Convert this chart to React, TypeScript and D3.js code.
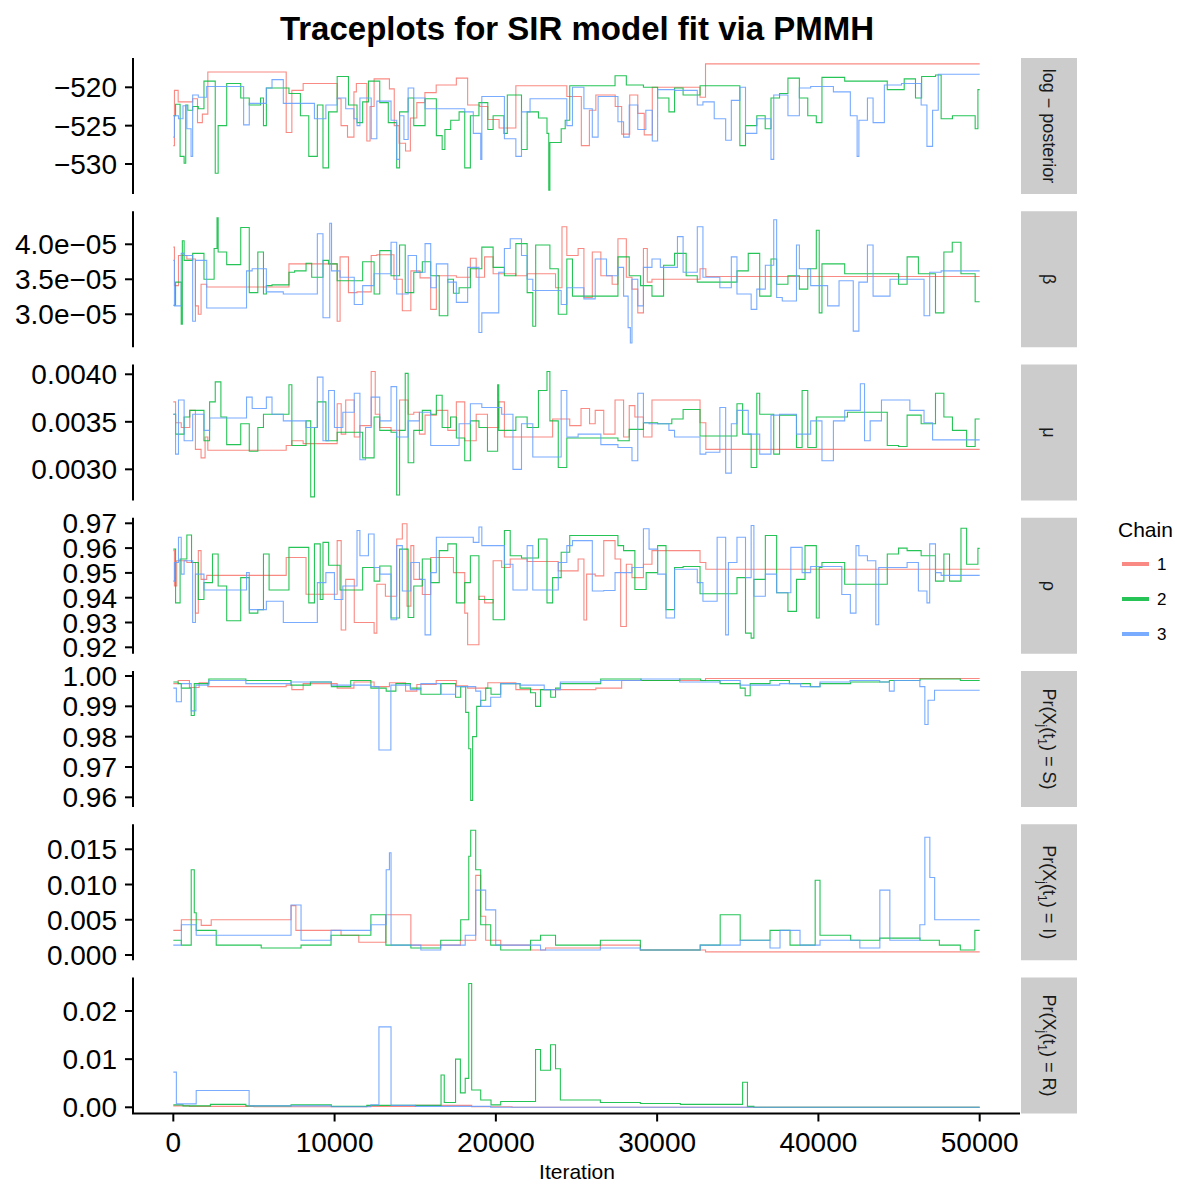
import React from 'react';
import * as d3 from 'd3';

type Pt = [number, number];

// ---- data: [iteration (thousands), value] step points, chains 1..3 ----
// log-posterior
const lp1: Pt[] = [[0,-527.6],[0.07,-520.4],[0.3,-521.9],[1.2,-521.5],[1.5,-524.6],[1.8,-523.5],[2.14,-518.0],[7.0,-525.9],[7.35,-520.4],[8.05,-519.5],[10.16,-521.5],[10.4,-525.0],[10.8,-526.5],[11.2,-520.6],[11.35,-519.5],[12.0,-527.0],[12.2,-522.5],[12.45,-518.9],[13.4,-520.2],[13.7,-525.0],[14.0,-527.3],[14.4,-528.3],[14.7,-524.0],[15.1,-522.0],[15.6,-520.7],[16.3,-519.7],[17.55,-518.8],[18.25,-522.3],[19.0,-522.5],[19.5,-524.2],[20.2,-525.3],[21.24,-519.8],[24.4,-521.2],[25.3,-527.6],[25.8,-523.0],[26.2,-521.0],[27.4,-522.5],[27.8,-526.1],[28.3,-521.0],[28.8,-523.4],[29.2,-526.2],[29.7,-520.0],[32.66,-521.3],[33.0,-516.95],[50,-516.95]];
const lp2: Pt[] = [[0,-523.7],[0.14,-522.2],[0.42,-529.0],[0.67,-529.9],[0.77,-522.3],[0.9,-523.0],[1.2,-522.5],[1.55,-522.8],[1.9,-519.2],[2.6,-531.2],[2.78,-525.0],[3.31,-519.5],[4.18,-521.4],[4.71,-522.3],[5.41,-521.4],[5.59,-525.0],[5.77,-520.1],[7.17,-520.8],[7.88,-523.7],[8.4,-529.0],[8.93,-522.3],[9.28,-530.5],[9.63,-523.2],[10.16,-518.6],[10.86,-522.3],[11.39,-524.6],[11.74,-521.9],[12.1,-519.2],[12.8,-522.0],[13.33,-524.6],[13.85,-530.5],[14.03,-523.2],[14.56,-521.4],[14.91,-525.0],[15.61,-521.5],[16.31,-526.3],[16.67,-528.1],[16.84,-525.5],[17.2,-524.3],[17.72,-523.2],[18.07,-530.5],[18.42,-523.7],[18.95,-522.0],[19.5,-525.5],[19.83,-523.7],[20.5,-526.0],[20.71,-521.0],[21.59,-528.1],[21.94,-523.2],[22.64,-524.0],[23.17,-526.0],[23.28,-533.4],[23.35,-527.2],[24.05,-525.4],[24.3,-524.3],[24.58,-519.8],[27.39,-518.5],[28.09,-519.7],[29.15,-520.0],[30.03,-521.4],[30.73,-523.2],[31.08,-520.1],[31.61,-521.0],[32.66,-519.8],[35.13,-527.6],[35.48,-525.0],[36.18,-523.7],[36.7,-525.4],[37.06,-521.4],[37.59,-520.8],[38.11,-518.8],[38.82,-521.4],[39.34,-523.7],[39.87,-524.6],[40.22,-518.7],[41.63,-519.2],[44.27,-520.3],[45.32,-518.9],[46.02,-521.4],[46.4,-518.6],[47.26,-518.4],[47.61,-524.1],[48.31,-523.7],[49.19,-523.7],[49.72,-525.4],[49.89,-520.3],[50,-520.3]];
const lp3: Pt[] = [[0,-526.5],[0.07,-523.7],[0.32,-524.1],[0.6,-522.4],[0.84,-525.4],[1.1,-529.0],[1.2,-521.0],[1.55,-521.3],[2.07,-519.9],[4.36,-524.9],[4.71,-522.1],[5.77,-520.1],[6.12,-519.0],[6.82,-522.1],[8.75,-524.1],[9.46,-522.3],[10.16,-521.4],[10.69,-522.8],[11.2,-524.1],[11.39,-525.0],[11.57,-521.4],[12.27,-526.7],[12.62,-521.8],[13.5,-524.3],[13.85,-529.4],[14.03,-523.7],[14.3,-526.8],[14.56,-520.1],[14.91,-521.4],[15.61,-522.8],[17.0,-522.8],[18.07,-523.2],[18.6,-526.0],[19.06,-529.4],[19.13,-521.2],[20.53,-526.7],[21.24,-529.0],[21.59,-523.2],[22.12,-521.5],[24.4,-525.0],[24.75,-520.0],[25.46,-522.8],[25.98,-526.5],[26.34,-521.2],[27.57,-524.5],[27.92,-526.5],[28.27,-522.3],[28.8,-525.5],[29.3,-523.0],[29.7,-527.0],[30.03,-520.3],[31.08,-520.4],[32.49,-522.3],[32.84,-521.9],[33.54,-524.1],[34.25,-526.9],[34.6,-521.7],[35.13,-520.0],[35.48,-526.0],[36.18,-524.1],[37.06,-529.4],[37.23,-521.0],[38.11,-523.7],[38.82,-520.1],[39.52,-519.9],[40.93,-520.6],[41.98,-523.7],[42.4,-529.0],[42.51,-524.3],[43.04,-521.4],[43.39,-524.6],[44.09,-519.7],[45.15,-519.5],[46.37,-522.3],[46.73,-527.7],[47.08,-523.0],[47.43,-518.3],[50,-518.3]];

// beta (units of 1e-5)
const beta1: Pt[] = [[0,3.96],[0.07,3.41],[0.32,3.84],[0.84,3.79],[1.37,3.12],[1.55,3.0],[1.72,3.43],[2.07,3.39],[7.17,3.72],[10.16,2.90],[10.34,3.82],[10.86,3.31],[11.39,3.32],[12.27,3.84],[12.62,3.85],[13.68,3.50],[14.2,3.05],[14.73,3.62],[15.3,3.52],[15.96,3.07],[16.31,3.55],[17.55,3.53],[18.42,3.80],[18.78,3.53],[19.3,3.82],[19.83,3.58],[21.24,3.55],[21.94,3.58],[23.7,3.38],[24.1,4.25],[24.4,3.84],[25.1,3.94],[25.46,3.24],[25.98,3.89],[26.51,3.55],[27.21,3.43],[27.57,4.08],[28.09,3.53],[28.44,3.36],[28.8,3.02],[29.15,3.94],[29.39,3.46],[29.68,3.50],[32.66,3.65],[33.02,3.54],[50,3.54]];
const beta2: Pt[] = [[0,3.13],[0.14,3.46],[0.49,2.86],[0.56,4.05],[0.67,3.77],[1.2,3.87],[1.9,3.50],[2.53,3.94],[2.71,4.38],[2.78,3.89],[3.31,3.71],[4.18,4.24],[4.71,3.31],[5.24,3.89],[5.59,3.29],[5.77,3.41],[6.12,3.42],[7.17,3.60],[7.52,3.62],[8.23,3.73],[8.58,3.53],[9.28,3.77],[9.63,3.72],[10.16,3.48],[11.74,3.75],[12.45,3.29],[12.8,3.91],[13.5,3.55],[14.03,3.99],[14.38,3.31],[14.91,3.60],[15.44,3.75],[15.96,3.55],[16.49,2.98],[17.02,3.50],[17.37,3.30],[17.72,3.38],[18.42,3.65],[19.13,3.96],[19.83,3.67],[20.53,3.55],[21.24,4.01],[21.94,3.31],[22.29,2.83],[22.47,3.99],[23.35,3.65],[23.87,3.0],[24.4,3.79],[24.75,3.26],[27.57,3.82],[28.27,3.55],[28.97,3.41],[29.68,3.26],[30.4,3.70],[31.08,3.87],[31.8,3.55],[32.49,3.46],[34.95,3.62],[35.65,3.87],[36.36,3.26],[37.06,3.79],[37.41,3.43],[38.11,3.55],[38.82,3.36],[39.34,3.65],[39.87,4.20],[40.05,3.02],[40.22,3.72],[41.63,3.58],[44.97,3.43],[45.5,3.82],[46.2,3.58],[47.26,3.02],[47.78,3.89],[48.3,4.03],[48.84,3.58],[49.72,3.18],[50,3.18]];
const beta3: Pt[] = [[0,3.77],[0.07,3.12],[0.49,3.87],[0.67,3.84],[1.2,2.90],[1.37,3.77],[2.07,3.09],[4.54,3.62],[4.89,3.65],[5.77,3.32],[6.82,3.29],[8.93,4.15],[9.28,2.95],[9.7,4.30],[9.81,3.62],[10.34,3.53],[11.22,3.14],[11.74,3.41],[12.45,3.58],[13.5,4.03],[13.85,3.29],[14.56,3.84],[15.08,3.60],[15.61,4.01],[15.96,3.38],[16.31,3.72],[17.02,3.46],[17.55,3.17],[18.25,3.67],[18.95,2.74],[19.13,3.02],[20.18,3.60],[20.53,3.94],[20.89,4.08],[21.59,3.84],[21.94,3.50],[22.29,3.34],[24.05,3.14],[24.4,3.38],[25.46,3.22],[26.16,3.79],[26.86,3.55],[27.57,3.67],[27.92,3.26],[28.2,2.81],[28.34,2.59],[28.44,3.50],[28.8,3.12],[29.15,3.67],[29.68,3.79],[30.2,3.67],[31.26,4.11],[31.61,3.60],[32.49,4.25],[32.84,3.53],[33.89,3.38],[34.6,3.82],[34.95,3.29],[35.83,3.07],[36.18,3.36],[36.71,3.70],[37.23,4.35],[37.41,3.24],[37.76,3.19],[38.64,3.99],[38.82,3.65],[39.52,3.41],[40.57,3.12],[41.28,3.48],[42.16,2.76],[42.51,3.46],[43.04,3.99],[43.39,3.26],[44.44,3.50],[46.55,2.98],[46.9,3.60],[47.61,3.62],[50,3.62]];

// mu (units of 1e-3)
const mu1: Pt[] = [[0,3.71],[0.14,3.49],[0.49,3.44],[1.02,3.62],[1.37,3.21],[1.72,3.12],[1.97,3.34],[2.14,3.20],[7.0,3.25],[7.35,3.30],[8.05,3.27],[10.16,3.69],[10.41,3.37],[10.69,3.73],[11.22,3.34],[11.57,3.46],[12.27,4.03],[12.52,3.58],[12.8,3.44],[13.5,3.41],[14.03,3.73],[14.56,3.58],[14.91,3.60],[15.26,3.37],[15.61,3.57],[16.31,3.62],[17.02,3.41],[17.55,3.71],[18.07,3.30],[18.78,3.58],[19.48,3.44],[20.18,3.71],[20.53,3.34],[21.24,3.34],[23.52,3.53],[24.58,3.46],[25.28,3.64],[25.81,3.48],[26.16,3.62],[26.69,3.37],[27.39,3.73],[27.92,3.34],[28.27,3.67],[28.62,3.55],[29.15,3.34],[29.68,3.73],[32.66,3.49],[33.02,3.21],[50,3.21]];
const mu2: Pt[] = [[0,3.58],[0.14,3.37],[0.67,3.55],[1.02,3.62],[1.9,3.30],[2.25,3.71],[2.6,3.92],[2.95,3.55],[3.31,3.26],[4.18,3.48],[4.71,3.19],[5.24,3.44],[5.59,3.58],[7.17,3.89],[7.35,3.25],[8.23,3.51],[8.52,2.71],[8.75,3.44],[8.93,3.71],[9.46,3.30],[10.16,3.39],[11.74,3.12],[12.45,3.55],[12.8,3.41],[13.5,3.39],[13.85,2.73],[14.03,3.41],[14.38,4.01],[14.56,3.07],[14.91,3.41],[15.44,3.62],[15.96,3.58],[16.31,3.78],[16.67,3.44],[17.19,3.55],[17.55,3.33],[18.07,3.09],[18.42,3.51],[18.95,3.44],[19.48,3.19],[20.11,3.89],[20.18,3.41],[21.24,3.55],[21.94,3.44],[22.64,3.83],[23.17,4.03],[23.35,3.51],[23.87,3.02],[24.4,3.33],[27.57,3.30],[28.27,3.42],[29.15,3.49],[30.03,3.48],[30.91,3.53],[31.61,3.63],[32.66,3.35],[34.95,3.69],[35.3,3.37],[35.83,3.02],[36.18,3.80],[36.36,3.58],[37.23,3.16],[37.59,3.57],[38.64,3.23],[38.99,3.83],[39.34,3.23],[39.87,3.55],[41.8,3.60],[44.27,3.25],[44.97,3.24],[45.5,3.57],[46.37,3.48],[47.26,3.80],[47.78,3.55],[48.31,3.41],[49.19,3.24],[49.72,3.53],[50,3.53]];
const mu3: Pt[] = [[0,3.58],[0.14,3.16],[0.32,3.73],[0.67,3.30],[1.2,3.58],[1.9,3.41],[2.25,3.54],[4.54,3.76],[4.89,3.64],[5.77,3.76],[6.12,3.58],[6.82,3.51],[8.23,3.44],[8.93,3.97],[9.28,3.30],[9.63,3.83],[9.99,3.44],[10.51,3.60],[11.22,3.80],[11.57,3.10],[11.92,3.44],[12.27,3.76],[12.8,3.51],[13.5,3.87],[13.85,3.34],[14.56,3.51],[15.26,3.60],[15.96,3.25],[17.72,3.48],[18.42,3.69],[19.13,3.65],[20.36,3.58],[21.06,3.00],[21.59,3.48],[22.29,3.13],[24.05,3.83],[24.4,3.34],[25.1,3.37],[26.51,3.26],[27.57,3.23],[28.44,3.09],[28.8,3.80],[29.15,3.49],[29.5,3.48],[30.73,3.41],[31.08,3.34],[32.66,3.16],[33.02,3.18],[33.89,3.65],[34.25,2.96],[34.6,3.48],[34.95,3.62],[35.65,3.37],[36.36,3.16],[37.06,3.57],[37.59,3.58],[38.64,3.37],[39.52,3.51],[40.22,3.09],[40.93,3.51],[41.63,3.62],[42.6,3.90],[42.86,3.30],[43.21,3.51],[43.91,3.73],[45.67,3.62],[46.55,3.49],[47.08,3.31],[50,3.31]];

// rho
const rho1: Pt[] = [[0,0.959],[0.07,0.9447],[0.21,0.9549],[0.84,0.9542],[1.37,0.9338],[1.55,0.959],[1.72,0.9474],[2.07,0.949],[7.0,0.9562],[8.23,0.9414],[10.16,0.9630],[10.41,0.9270],[10.69,0.9474],[11.22,0.930],[12.45,0.9257],[12.62,0.9454],[13.15,0.9406],[13.85,0.9637],[14.2,0.9698],[14.49,0.9366],[14.73,0.961],[14.91,0.9474],[15.44,0.9413],[15.96,0.9562],[17.37,0.9501],[18.07,0.9338],[18.25,0.921],[18.95,0.9406],[19.3,0.9379],[19.83,0.9549],[20.36,0.9522],[20.89,0.9556],[21.94,0.9546],[23.87,0.9508],[25.1,0.9556],[25.46,0.931],[25.63,0.9495],[26.16,0.9488],[26.69,0.963],[27.39,0.9556],[27.74,0.9284],[28.09,0.9535],[28.44,0.9481],[29.15,0.9535],[29.68,0.959],[32.66,0.9542],[33.02,0.9515],[50,0.9515]];
const rho2: Pt[] = [[0,0.9596],[0.14,0.9379],[0.42,0.9556],[0.84,0.9653],[1.13,0.9542],[1.55,0.9393],[1.9,0.9461],[2.43,0.9576],[2.78,0.9447],[3.31,0.9307],[4.18,0.9481],[4.71,0.9338],[5.24,0.9352],[5.59,0.9576],[5.94,0.9431],[7.17,0.9603],[8.4,0.9379],[8.75,0.9617],[9.11,0.9393],[9.28,0.9623],[9.63,0.9531],[10.34,0.9431],[11.74,0.9522],[12.45,0.9467],[12.8,0.9528],[13.5,0.9318],[14.03,0.9596],[14.56,0.932],[14.91,0.9447],[15.44,0.9556],[15.96,0.9461],[16.49,0.959],[17.02,0.9617],[17.55,0.9379],[18.07,0.9461],[18.42,0.9569],[18.95,0.9393],[19.83,0.9311],[20.53,0.9671],[20.89,0.9569],[21.59,0.9560],[22.64,0.9637],[23.17,0.9379],[23.52,0.9481],[24.05,0.9583],[24.58,0.9651],[27.57,0.9610],[27.92,0.9590],[28.62,0.9433],[29.32,0.9501],[30.03,0.9610],[30.55,0.9352],[31.08,0.9522],[31.61,0.9526],[32.66,0.9416],[34.95,0.9481],[35.48,0.9257],[35.83,0.9237],[36.0,0.9474],[36.71,0.9651],[37.41,0.9420],[38.11,0.9345],[38.64,0.9474],[39.17,0.9610],[39.87,0.9318],[40.05,0.9522],[40.22,0.9542],[41.63,0.9454],[44.27,0.9576],[44.97,0.9600],[45.5,0.9590],[46.37,0.9569],[47.26,0.9467],[47.78,0.9576],[48.13,0.9467],[48.84,0.9680],[49.19,0.9535],[49.89,0.9599],[50,0.9599]];
const rho3: Pt[] = [[0,0.9467],[0.07,0.9542],[0.32,0.9644],[0.49,0.9495],[0.67,0.9549],[1.2,0.930],[1.37,0.9495],[1.9,0.9431],[4.54,0.9501],[4.71,0.9352],[5.77,0.9386],[6.82,0.930],[8.93,0.9461],[9.46,0.9501],[9.99,0.9393],[10.51,0.9447],[11.39,0.9671],[11.57,0.9569],[12.1,0.9657],[12.45,0.9522],[12.8,0.9495],[13.5,0.9311],[13.85,0.961],[14.2,0.9427],[14.73,0.9542],[15.26,0.9474],[15.61,0.925],[15.96,0.9501],[16.31,0.9644],[18.6,0.9623],[18.95,0.9685],[19.13,0.961],[20.53,0.9535],[21.06,0.9431],[21.94,0.961],[22.29,0.9431],[23.87,0.9542],[24.4,0.961],[24.75,0.9630],[25.98,0.9427],[26.69,0.9429],[27.39,0.9501],[28.44,0.9522],[29.15,0.9678],[29.5,0.9596],[30.03,0.9495],[30.55,0.9318],[31.08,0.9515],[32.49,0.9461],[32.84,0.9386],[33.72,0.9644],[34.25,0.925],[34.42,0.9542],[34.95,0.9644],[35.48,0.9481],[35.83,0.9691],[36.0,0.9406],[36.71,0.9495],[37.41,0.9420],[38.29,0.9603],[38.99,0.9501],[39.52,0.9526],[41.45,0.9413],[41.98,0.9338],[42.33,0.9610],[42.51,0.9569],[43.04,0.9549],[43.56,0.9291],[43.74,0.9522],[45.5,0.9542],[46.2,0.9427],[46.73,0.9379],[46.9,0.9617],[47.26,0.9501],[47.61,0.949],[50,0.949]];

// Pr(X_j(t_1) = S)
const probS1: Pt[] = [[0,0.9975],[0.3,0.9985],[1.0,0.9962],[1.6,0.9978],[2.14,0.9965],[7.0,0.9970],[7.35,0.9955],[8.05,0.9975],[10.16,0.9960],[11.2,0.9980],[12.45,0.9965],[13.4,0.9978],[14.4,0.9950],[15.1,0.9972],[16.3,0.9985],[17.55,0.9968],[18.25,0.9960],[19.5,0.9978],[21.24,0.9955],[24.4,0.9955],[26.2,0.9960],[27.8,0.9985],[29.7,0.9985],[33.0,0.9992],[50,0.9992]];
const probS2: Pt[] = [[0,0.9980],[0.3,0.9975],[0.5,0.9960],[1.11,0.9870],[1.3,0.9975],[2.2,0.9990],[4.5,0.9985],[7.3,0.9970],[8.5,0.9980],[9.8,0.9965],[11.0,0.9985],[12.25,0.9960],[13.2,0.9950],[13.8,0.9975],[14.7,0.9960],[15.35,0.9940],[16.58,0.9975],[17.5,0.9930],[17.82,0.9965],[18.13,0.9880],[18.32,0.9760],[18.44,0.9590],[18.56,0.9800],[18.81,0.9900],[19.06,0.9920],[19.37,0.9960],[19.7,0.9940],[20.3,0.9975],[21.5,0.9960],[22.15,0.9945],[22.46,0.9900],[22.77,0.9955],[23.4,0.9930],[23.7,0.9960],[24.0,0.9975],[26.5,0.9990],[29.0,0.9985],[31.4,0.9990],[32.7,0.9985],[33.9,0.9975],[35.15,0.9960],[35.46,0.9935],[35.77,0.9975],[37.0,0.9985],[38.2,0.9975],[39.5,0.9965],[40.1,0.9975],[42.0,0.9980],[44.4,0.9985],[46.3,0.9990],[48.8,0.9985],[50,0.9985]];
const probS3: Pt[] = [[0,0.9960],[0.19,0.9915],[0.5,0.9975],[1.11,0.9885],[1.4,0.9970],[2.2,0.9985],[4.5,0.9975],[7.3,0.9980],[9.8,0.9970],[12.25,0.9965],[12.75,0.9756],[13.49,0.9970],[14.7,0.9955],[15.35,0.9975],[16.6,0.9940],[17.5,0.9965],[18.75,0.9950],[19.06,0.9900],[19.68,0.9930],[20.3,0.9975],[21.5,0.9970],[23.0,0.9955],[24.0,0.9980],[26.5,0.9985],[29.0,0.9990],[31.4,0.9980],[33.9,0.9985],[35.15,0.9970],[37.6,0.9975],[38.9,0.9965],[40.1,0.9980],[41.96,0.9985],[43.8,0.9980],[44.4,0.9950],[44.7,0.9985],[46.29,0.9965],[46.6,0.9840],[46.8,0.9920],[47.2,0.9953],[50,0.9953]];

// Pr(X_j(t_1) = I) (units of 1e-3)
const probI1: Pt[] = [[0,3.5],[0.5,5.0],[1.73,4.2],[2.35,5.0],[7.3,7.0],[7.6,3.5],[10.4,2.8],[11.5,1.8],[13.18,5.7],[14.73,1.4],[17.8,2.1],[18.75,11.3],[19.06,5.5],[19.37,2.1],[20.3,1.4],[22.15,0.7],[23.08,1.0],[26.48,1.4],[28.96,0.7],[33.0,0.45],[50,0.45]];
const probI2: Pt[] = [[0,2.1],[0.5,1.4],[1.11,12.1],[1.3,6.0],[1.42,3.5],[2.66,1.4],[5.45,1.0],[7.92,1.4],[9.78,2.8],[12.25,5.7],[13.18,1.4],[14.73,1.0],[16.58,2.1],[17.82,5.0],[18.32,14.0],[18.44,17.7],[18.75,12.1],[19.06,4.3],[19.68,1.4],[20.3,0.7],[22.15,2.1],[22.77,2.8],[23.7,1.4],[26.48,2.1],[28.96,0.7],[32.67,1.4],[33.91,5.7],[35.15,2.1],[37.0,3.5],[38.24,1.4],[39.8,10.6],[40.1,2.8],[42.0,2.1],[43.8,2.4],[46.3,2.1],[47.5,1.4],[48.8,0.7],[49.7,3.5],[50,3.5]];
const probI3: Pt[] = [[0,1.4],[0.5,4.3],[1.42,2.8],[4.83,2.8],[7.3,7.1],[7.92,2.1],[9.78,3.5],[12.25,4.3],[13.2,12.1],[13.4,14.5],[13.5,1.4],[15.35,0.7],[16.58,1.4],[18.1,2.8],[18.75,9.2],[19.37,6.4],[19.99,1.4],[21.53,1.4],[22.77,0.7],[26.48,1.0],[28.96,0.7],[32.67,1.4],[35.15,2.1],[37.0,1.0],[37.62,3.5],[38.86,1.4],[40.1,2.1],[42.57,1.0],[43.81,9.2],[44.43,2.1],[46.29,4.3],[46.6,16.7],[46.91,11.0],[47.21,5.0],[50,5.0]];

// Pr(X_j(t_1) = R)
const probR1: Pt[] = [[0,0.0003],[1.0,0.0002],[5.0,0.0001],[12.0,0.0002],[15.0,0.0004],[18.5,0.0001],[21.0,0],[50,0]];
const probR2: Pt[] = [[0,0.0005],[0.6,0.0003],[2.3,0.0006],[4.5,0.0003],[7.3,0.0005],[9.8,0.0002],[12.0,0.0004],[16.6,0.0067],[16.8,0.0010],[17.5,0.0100],[17.8,0.0030],[18.1,0.0060],[18.32,0.0257],[18.5,0.0036],[19.06,0.0015],[19.7,0.0005],[20.3,0.0012],[22.46,0.0120],[22.77,0.0077],[23.39,0.0130],[23.7,0.0080],[24.0,0.0015],[26.48,0.0010],[28.96,0.0008],[31.44,0.0006],[35.3,0.0052],[35.6,0.0002],[36.0,0],[50,0]];
const probR3: Pt[] = [[0,0.0073],[0.19,0.0007],[1.42,0.0035],[4.7,0.0003],[9.8,0.0001],[12.25,0.0005],[12.75,0.0167],[13.5,0.0004],[15.0,0.0002],[19.68,0],[50,0]];

const chains = ['1', '2', '3'];
const chainColors = ['#F8766D', '#00BA38', '#619CFF'];
const xTicks = [0, 10, 20, 30, 40, 50];
const xTickLabels = ['0', '10000', '20000', '30000', '40000', '50000'];

const lpTicks = [-530, -525, -520];
const lpLabels = ['\u2212530', '\u2212525', '\u2212520'];
const betaTicks = [3.0, 3.5, 4.0];
const betaLabels = ['3.0e\u221205', '3.5e\u221205', '4.0e\u221205'];
const muTicks = [3.0, 3.5, 4.0];
const muLabels = ['0.0030', '0.0035', '0.0040'];
const rhoTicks = [0.92, 0.93, 0.94, 0.95, 0.96, 0.97];
const rhoLabels = ['0.92', '0.93', '0.94', '0.95', '0.96', '0.97'];
const sTicks = [0.96, 0.97, 0.98, 0.99, 1.0];
const sLabels = ['0.96', '0.97', '0.98', '0.99', '1.00'];
const iTicks = [0, 5, 10, 15];
const iLabels = ['0.000', '0.005', '0.010', '0.015'];
const rTicks = [0, 0.01, 0.02];
const rLabels = ['0.00', '0.01', '0.02'];

type Strip = { kind: 'plain'; text: string } | { kind: 'prob'; state: string };

const panels: { strip: Strip; domain: [number, number]; ticks: number[]; labels: string[]; series: Pt[][] }[] = [
  { strip: { kind: 'plain', text: 'log \u2212 posterior' }, domain: [-533.91, -516.18], ticks: lpTicks, labels: lpLabels, series: [lp1, lp2, lp3] },
  { strip: { kind: 'plain', text: '\u03B2' }, domain: [2.529, 4.472], ticks: betaTicks, labels: betaLabels, series: [beta1, beta2, beta3] },
  { strip: { kind: 'plain', text: '\u03BC' }, domain: [2.672, 4.103], ticks: muTicks, labels: muLabels, series: [mu1, mu2, mu3] },
  { strip: { kind: 'plain', text: '\u03C1' }, domain: [0.9174, 0.97224], ticks: rhoTicks, labels: rhoLabels, series: [rho1, rho2, rho3] },
  { strip: { kind: 'prob', state: 'S' }, domain: [0.95681, 1.00165], ticks: sTicks, labels: sLabels, series: [probS1, probS2, probS3] },
  { strip: { kind: 'prob', state: 'I' }, domain: [-0.745, 18.55], ticks: iTicks, labels: iLabels, series: [probI1, probI2, probI3] },
  { strip: { kind: 'prob', state: 'R' }, domain: [-0.00129, 0.02696], ticks: rTicks, labels: rLabels, series: [probR1, probR2, probR3] },
];

const W = 1177;
const H = 1184;
const panelLeft = 133;
const panelRight = 1020;
const panelTop0 = 58;
const panelStep = 153.25;
const panelH = 136;
const stripX = 1021;
const stripW = 56;
const FONT = '"Liberation Sans", Arial, Helvetica, sans-serif';

export default function App() {
  const x = d3.scaleLinear().domain([-2.5, 52.5]).range([panelLeft, panelRight]);
  const lastBottom = panelTop0 + 6 * panelStep + panelH;

  return (
    <svg width={W} height={H} style={{ position: 'absolute', left: 0, top: 0, background: '#fff' }} fontFamily={FONT}>
      <rect x={0} y={0} width={W} height={H} fill="#fff" />
      <text x={577} y={40} textAnchor="middle" fontSize={33} fontWeight="bold" fill="#000">
        Traceplots for SIR model fit via PMMH
      </text>
      {panels.map((p, i) => {
        const top = panelTop0 + i * panelStep;
        const y = d3.scaleLinear().domain(p.domain).range([top + panelH, top]);
        const line = d3
          .line<Pt>()
          .x((d) => x(d[0]))
          .y((d) => y(d[1]))
          .curve(d3.curveStepAfter);
        const cy = top + panelH / 2;
        const cx = stripX + stripW / 2;
        return (
          <g key={i}>
            {p.series.map((s, k) => (
              <path key={k} d={line(s) || ''} fill="none" stroke={chainColors[k]} strokeWidth={1.1} strokeOpacity={0.85} />
            ))}
            <line x1={panelLeft} x2={panelLeft} y1={top} y2={top + panelH} stroke="#000" strokeWidth={2} />
            {p.ticks.map((t, k) => (
              <g key={k}>
                <line x1={panelLeft - 8} x2={panelLeft} y1={y(t)} y2={y(t)} stroke="#000" strokeWidth={2} />
                <text x={panelLeft - 16} y={y(t)} dy="0.36em" textAnchor="end" fontSize={28} fill="#000">
                  {p.labels[k]}
                </text>
              </g>
            ))}
            <rect x={stripX} y={top} width={stripW} height={panelH} fill="#CCCCCC" />
            <text transform={`translate(${cx},${cy}) rotate(90)`} textAnchor="middle" dy="0.35em" fontSize={18} fill="#1A1A1A">
              {p.strip.kind === 'plain' ? (
                p.strip.text
              ) : (
                <>
                  Pr(X<tspan fontSize={12} dy={5}>j</tspan>
                  <tspan dy={-5}>(t</tspan>
                  <tspan fontSize={12} dy={5}>1</tspan>
                  <tspan dy={-5}>{`) = ${p.strip.state})`}</tspan>
                </>
              )}
            </text>
          </g>
        );
      })}
      {/* x axis */}
      <line x1={panelLeft - 1} x2={panelRight} y1={lastBottom} y2={lastBottom} stroke="#000" strokeWidth={2} />
      {xTicks.map((t, k) => (
        <g key={k}>
          <line x1={x(t)} x2={x(t)} y1={lastBottom} y2={lastBottom + 8} stroke="#000" strokeWidth={2} />
          <text x={x(t)} y={lastBottom + 38} textAnchor="middle" fontSize={28} fill="#000">
            {xTickLabels[k]}
          </text>
        </g>
      ))}
      <text x={577} y={1179} textAnchor="middle" fontSize={21} fill="#000">
        Iteration
      </text>
      {/* legend */}
      <text x={1118} y={537} fontSize={21} fill="#000">
        Chain
      </text>
      {chains.map((c, k) => {
        const ly = 564 + k * 35;
        return (
          <g key={c}>
            <line x1={1122} x2={1149} y1={ly} y2={ly} stroke={chainColors[k]} strokeWidth={4} strokeOpacity={0.85} />
            <text x={1157} y={ly} dy="0.36em" fontSize={17} fill="#000">
              {c}
            </text>
          </g>
        );
      })}
    </svg>
  );
}
